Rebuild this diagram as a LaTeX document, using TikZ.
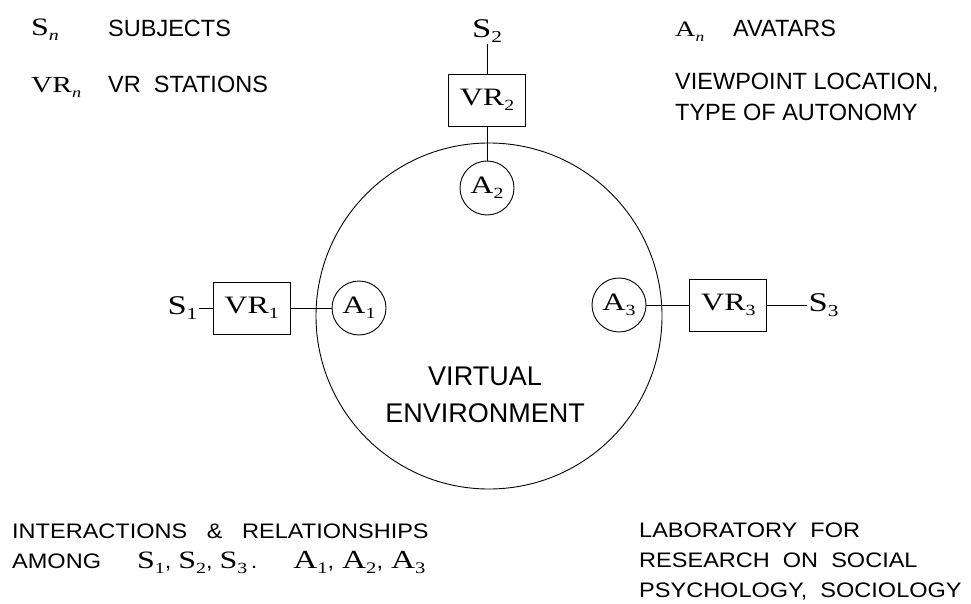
\documentclass[tikz,border=0pt]{standalone}
\usepackage{fontspec}
\setmainfont{Liberation Sans}
\newfontfamily\timesfont[FakeStretch=1.28]{Liberation Serif}
\newfontfamily\widefont[FakeStretch=1.12]{Liberation Sans}
\usetikzlibrary{positioning}
\newcommand{\lbl}[3][27]{{\timesfont\fontsize{#1}{#1}\selectfont #2\raisebox{-0.2em}{\fontsize{\fpeval{0.62*#1}}{#1}\selectfont #3}}}
\tikzset{%
  myedge/.style={line width=0.9pt},
  mybox/.style={rectangle, draw=black, line width=0.9pt, minimum width=77pt, minimum height=52pt, inner sep=0pt},
  mycirc/.style={circle, draw=black, line width=0.9pt, minimum size=54pt, inner sep=0pt},
  mybig/.style={circle, draw=black, line width=0.9pt, minimum size=346pt, inner sep=0pt},
  mylabel/.style={inner sep=0pt, anchor=base west, font=\fontsize{23.5}{31}\selectfont, align=left},
  mynote/.style={inner sep=0pt, anchor=base west, font=\widefont\fontsize{21}{30}\selectfont, align=left}
}

\begin{document}
\begin{tikzpicture}[x=1pt, y=-1pt]
  \useasboundingbox (0,0) rectangle (971,604);
  % virtual environment
  \node[mybig] (ve) at (489,316) {};
  \node[inner sep=0pt, anchor=base, align=center, font=\fontsize{27}{37}\selectfont] (vetext) at (485,422) {VIRTUAL\\ENVIRONMENT};
  % avatars
  \node[mycirc] (a1) at (359,308) {\lbl[25]{A}{1}};
  \node[mycirc] (a2) at (487,188) {\lbl[25]{A}{2}};
  \node[mycirc] (a3) at (619,305) {\lbl[25]{A}{3}};
  % stations and subjects
  \node[mybox, left=41pt] (vr1) at (a1.west) {\lbl[25]{VR}{1}};
  \node[mybox, above=34pt] (vr2) at (a2.north) {\lbl[25]{VR}{2}};
  \node[mybox, right=43pt] (vr3) at (a3.east) {\lbl[25]{VR}{3}};
  \node[inner sep=1pt, left=14pt] (s1) at (vr1.west) {\lbl{S}{1}};
  \node[inner sep=1pt, above=30pt] (s2) at (vr2.north) {\lbl{S}{2}};
  \node[inner sep=1pt, right=40pt] (s3) at (vr3.east) {\lbl{S}{3}};
  \draw [myedge] (s1) -- (vr1);
  \draw [myedge] (vr1) -- (a1);
  \draw [myedge] (s2) -- (vr2);
  \draw [myedge] (vr2) -- (a2);
  \draw [myedge] (s3) -- (vr3);
  \draw [myedge] (vr3) -- (a3);
  % legend
  \node[mylabel] (ksn) at (31,36) {\lbl[25]{S}{\textit{n}}};
  \node[mylabel] (tsn) at (108,37) {SUBJECTS};
  \node[mylabel] (kvr) at (31,93) {\lbl[23]{VR}{\textit{n}}};
  \node[mylabel] (tvr) at (108,93) {VR\ \ STATIONS};
  \node[mylabel] (kan) at (675,37) {\lbl[22]{A}{\textit{n}}};
  \node[mylabel] (tan) at (733,37) {AVATARS};
  \node[mylabel] (tview) at (675,121) {VIEWPOINT LOCATION,\\TYPE OF AUTONOMY};
  % notes
  \node[mynote] (tint) at (12,568) {INTERACTIONS\ \ \ \&\ \ \ RELATIONSHIPS\\AMONG\hspace{36pt}\lbl[25]{S}{1},\hspace{7pt}\lbl[25]{S}{2},\hspace{7pt}\lbl[25]{S}{3}\,.\hspace{36pt}\lbl[26]{A}{1},\hspace{8pt}\lbl[26]{A}{2},\hspace{8pt}\lbl[26]{A}{3}};
  \node[mynote] (tlab) at (639,597) {LABORATORY\ \ FOR\\RESEARCH\ \ ON\ \ SOCIAL\\PSYCHOLOGY,\ \ SOCIOLOGY};
\end{tikzpicture}
\end{document}
